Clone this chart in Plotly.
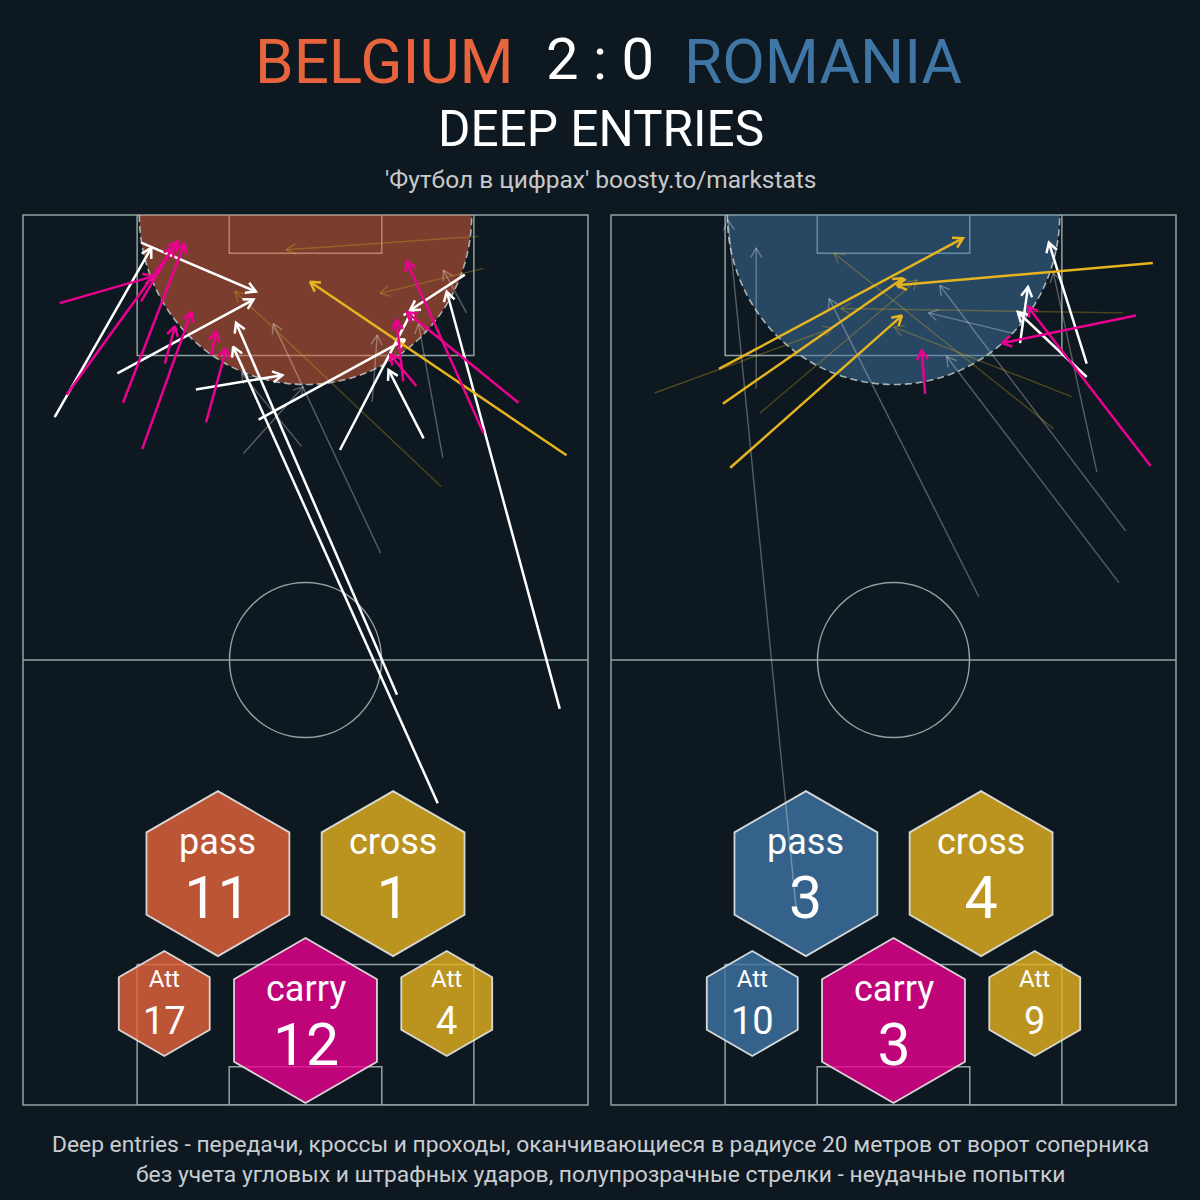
import math
import plotly.graph_objects as go

# ---------------- data ----------------
# coordinates in 0-100 pitch units: x across the pitch width, y along the length (100 = opponent goal)
# each row: [x_start, y_start, x_end, y_end]
teams = ["BELGIUM", "ROMANIA"]
score = [2, 0]

bel_pass = [
    [5.6, 77.3, 22.7, 96.3],
    [20.9, 96.9, 41.2, 91.4],
    [16.7, 82.2, 40.8, 90.5],
    [30.6, 80.4, 45.9, 82.0],
    [66.2, 46.1, 37.7, 87.9],
    [73.4, 33.9, 37.2, 85.2],
    [41.7, 77.0, 67.6, 86.0],
    [56.1, 73.6, 69.0, 89.4],
    [70.9, 74.9, 64.7, 82.6],
    [78.2, 93.3, 68.5, 89.3],
    [95.0, 44.5, 75.0, 91.4],
]
bel_pass_fail = [
    [63.3, 62.0, 44.3, 87.8],
    [39.0, 73.2, 49.6, 80.7],
    [49.3, 74.0, 38.7, 82.2],
    [61.8, 79.0, 62.7, 86.5],
    [78.5, 89.0, 74.4, 93.8],
    [74.3, 72.7, 70.0, 87.8],
]
bel_cross = [
    [96.2, 73.0, 50.8, 92.5],
]
bel_cross_fail = [
    [80.6, 97.6, 46.6, 96.1],
    [81.5, 94.0, 63.2, 91.2],
    [74.0, 69.5, 37.5, 91.4],
]
bel_carry = [
    [6.5, 90.1, 23.0, 93.1],
    [7.7, 79.8, 27.4, 97.0],
    [20.9, 90.3, 26.6, 96.4],
    [17.7, 78.9, 28.6, 96.8],
    [21.1, 73.7, 29.8, 89.1],
    [25.1, 83.3, 26.9, 87.5],
    [33.3, 84.3, 34.2, 86.9],
    [32.4, 76.7, 36.0, 85.0],
    [81.5, 75.5, 67.9, 94.8],
    [87.7, 78.9, 67.9, 89.1],
    [67.3, 81.3, 66.1, 88.2],
    [69.6, 80.8, 65.0, 84.3],
]

rom_pass = [
    [84.2, 83.3, 77.5, 96.9],
    [72.4, 85.6, 73.8, 91.9],
    [84.2, 81.8, 72.0, 89.1],
]
rom_pass_fail = [
    [32.9, 21.2, 20.7, 99.4],
    [25.7, 80.5, 25.7, 96.3],
    [65.1, 57.1, 38.6, 90.6],
    [71.2, 86.7, 56.2, 89.0],
    [89.9, 58.7, 59.4, 84.1],
    [91.1, 64.5, 58.2, 92.1],
    [86.0, 71.1, 78.3, 93.5],
]
rom_cross = [
    [19.1, 82.7, 62.3, 97.4],
    [19.8, 78.8, 51.7, 92.9],
    [21.1, 71.6, 51.5, 88.7],
    [95.9, 94.6, 50.6, 92.1],
]
rom_cross_fail = [
    [7.7, 80.0, 39.2, 87.3],
    [26.3, 77.7, 54.2, 92.7],
    [81.5, 79.6, 50.1, 87.4],
    [78.3, 76.0, 39.5, 95.7],
    [90.7, 89.0, 40.7, 89.5],
]
rom_carry = [
    [55.6, 79.9, 55.0, 84.8],
    [92.9, 88.7, 69.2, 85.6],
    [95.5, 71.8, 73.8, 89.7],
]

# ---------------- style ----------------
BG = "#0e1820"
LINE = "#8fa3a0"
TEAM_RGB = [(232, 100, 60), (64, 118, 165)]
GOLD = (230, 180, 30)
MAG = (236, 0, 145)
WHITE = (255, 255, 255)
FONT = "Roboto"

def rgba(c, a):
    return f"rgba({c[0]},{c[1]},{c[2]},{a})"

W_PX, H_PX = 1200, 1200
PITCH_X0 = [23, 611]
PITCH_W = 565
PITCH_TOP, PITCH_BOT = 215, 1105
SX = PITCH_W / 100.0
SY = (PITCH_BOT - PITCH_TOP) / 100.0

# pitch geometry (metres -> 0-100 units)
PL, PWm = 105.0, 68.0
def ux(m):
    return m / PWm * 100
def uy(m):
    return m / PL * 100

fig = go.Figure()

def arrow_xy(rows, head=11.0, ang=math.radians(30)):
    xs, ys = [], []
    for x0, y0, x1, y1 in rows:
        dxp, dyp = (x1 - x0) * SX, (y1 - y0) * SY
        ln = math.hypot(dxp, dyp)
        bx, by = -dxp / ln, -dyp / ln
        arms = []
        for s in (1, -1):
            c, si = math.cos(s * ang), math.sin(s * ang)
            axp = bx * c - by * si
            ayp = bx * si + by * c
            arms.append((x1 + axp * head / SX, y1 + ayp * head / SY))
        xs += [x0, x1, None, arms[0][0], x1, arms[1][0], None]
        ys += [y0, y1, None, arms[0][1], y1, arms[1][1], None]
    return xs, ys

shapes = []
annotations = []

def paper(px, py):
    return px / W_PX, 1 - py / H_PX

team_sets = [
    (bel_pass, bel_pass_fail, bel_cross, bel_cross_fail, bel_carry),
    (rom_pass, rom_pass_fail, rom_cross, rom_cross_fail, rom_carry),
]

for i in range(2):
    xr = "x" if i == 0 else "x2"
    yr = "y" if i == 0 else "y2"
    team = TEAM_RGB[i]
    p_ok, p_fail, c_ok, c_fail, carry = team_sets[i]
    lw = 1.5
    # border
    shapes.append(dict(type="rect", xref=f"{xr} domain", yref=f"{yr} domain", x0=0, x1=1, y0=0, y1=1,
                       line=dict(color=LINE, width=lw), layer="below"))
    # halfway
    shapes.append(dict(type="line", xref=xr, yref=yr, x0=0, x1=100, y0=50, y1=50,
                       line=dict(color=LINE, width=lw), layer="below"))
    # centre circle
    shapes.append(dict(type="circle", xref=xr, yref=yr, x0=50 - ux(9.15), x1=50 + ux(9.15),
                       y0=50 - uy(9.15), y1=50 + uy(9.15), line=dict(color=LINE, width=lw), layer="below"))
    # penalty and six-yard boxes
    pb_w, pb_d = 20.2, 15.8
    sb_w, sb_d = 36.5, 4.3
    for (a, b) in [(100 - pb_d, 100), (0, pb_d)]:
        shapes.append(dict(type="rect", xref=xr, yref=yr, x0=pb_w, x1=100 - pb_w, y0=a, y1=b,
                           line=dict(color=LINE, width=lw), layer="below"))
    for (a, b) in [(100 - sb_d, 100), (0, sb_d)]:
        shapes.append(dict(type="rect", xref=xr, yref=yr, x0=sb_w, x1=100 - sb_w, y0=a, y1=b,
                           line=dict(color=LINE, width=lw), layer="below"))
    # 20 m zone
    rx, ry = ux(20), uy(20)
    pts = []
    n = 90
    for k in range(n + 1):
        t = math.pi + math.pi * k / n
        pts.append((50 + rx * math.cos(t), 100 + ry * math.sin(t)))
    path_fill = "M " + " L ".join(f"{x:.3f},{y:.3f}" for x, y in pts) + " Z"
    path_arc = "M " + " L ".join(f"{x:.3f},{y:.3f}" for x, y in pts)
    shapes.append(dict(type="path", xref=xr, yref=yr, path=path_fill, fillcolor=rgba(team, 0.5),
                       line=dict(width=0), layer="below"))
    shapes.append(dict(type="path", xref=xr, yref=yr, path=path_arc,
                       line=dict(color="rgba(185,192,192,0.9)", width=1.6, dash="7px,4px"), layer="below"))

    # hexagon badges
    hex_x = [34.5, 65.5, 50.0, 25.0, 75.0]
    hex_y = [26.0, 26.0, 9.5, 11.4, 11.4]
    hex_size = [165, 165, 165, 105, 105]
    hex_col = [rgba(team, 0.8), rgba(GOLD, 0.8), rgba(MAG, 0.8), rgba(team, 0.8), rgba(GOLD, 0.8)]
    fig.add_trace(go.Scatter(
        x=hex_x, y=hex_y, xaxis=xr, yaxis=yr, mode="markers", cliponaxis=False, hoverinfo="skip",
        marker=dict(symbol="hexagon", size=hex_size, color=hex_col, opacity=1,
                    line=dict(color="rgba(222,224,224,0.95)", width=1.8))))
    labels = ["pass", "cross", "carry", "Att", "Att"]
    values = [len(p_ok), len(c_ok), len(carry), len(p_ok) + len(p_fail), len(c_ok) + len(c_fail)]
    for k in range(5):
        big = hex_size[k] > 120
        s1, s2, base, ysh = (36, 59, 49.2, -3.0) if big else (24, 38, 36.15, -0.55)
        txt = (f"<span style='font-size:{s1}px'>{labels[k]}</span><br>"
               f"<span style='font-size:{s2}px'>{values[k]}</span>")
        annotations.append(dict(xref=xr, yref=yr, x=hex_x[k], y=hex_y[k], text=txt, showarrow=False,
                                yshift=ysh, xanchor="center", yanchor="middle",
                                align="center", font=dict(family=FONT, size=base, color="white")))

    # arrows: unsuccessful first (semi-transparent), then successful
    for rows, col, a, w in [(p_fail, WHITE, 0.3, 1.4), (c_fail, GOLD, 0.3, 1.4),
                            (p_ok, WHITE, 1.0, 2.5), (c_ok, GOLD, 1.0, 2.5), (carry, MAG, 1.0, 2.5)]:
        xs, ys = arrow_xy(rows)
        fig.add_trace(go.Scatter(x=xs, y=ys, xaxis=xr, yaxis=yr, mode="lines", hoverinfo="skip",
                                 line=dict(color=rgba(col, a), width=w)))

# titles
x, y = paper(516, 61.5)
annotations.append(dict(xref="paper", yref="paper", x=x, y=y, text=teams[0], showarrow=False,
                        xanchor="right", yanchor="middle", font=dict(family=FONT, size=62, color=rgba(TEAM_RGB[0], 1))))
x, y = paper(600, 59.5)
annotations.append(dict(xref="paper", yref="paper", x=x, y=y, text=f"{score[0]} : {score[1]}", showarrow=False,
                        xanchor="center", yanchor="middle", font=dict(family=FONT, size=58, color="white")))
x, y = paper(682, 61.5)
annotations.append(dict(xref="paper", yref="paper", x=x, y=y, text=teams[1], showarrow=False,
                        xanchor="left", yanchor="middle", font=dict(family=FONT, size=62, color=rgba(TEAM_RGB[1], 1))))
x, y = paper(601, 129)
annotations.append(dict(xref="paper", yref="paper", x=x, y=y, text="DEEP ENTRIES", showarrow=False,
                        xanchor="center", yanchor="middle", font=dict(family=FONT, size=49.5, color="white")))
x, y = paper(600, 179)
annotations.append(dict(xref="paper", yref="paper", x=x, y=y, text="'Футбол в цифрах' boosty.to/markstats",
                        showarrow=False, xanchor="center", yanchor="middle",
                        font=dict(family=FONT, size=24.5, color="#c8c8c8")))
footer = ["Deep entries - передачи, кроссы и проходы, оканчивающиеся в радиусе 20 метров от ворот соперника",
          "без учета угловых и штрафных ударов, полупрозрачные стрелки - неудачные попытки"]
for j, line in enumerate(footer):
    x, y = paper(600, 1144.5 + 30 * j)
    annotations.append(dict(xref="paper", yref="paper", x=x, y=y, text=line, showarrow=False,
                            xanchor="center", yanchor="middle", font=dict(family=FONT, size=22.8, color="#c8cdd2")))

ydom = [1 - PITCH_BOT / H_PX, 1 - PITCH_TOP / H_PX]
ax_common = dict(range=[0, 100], visible=False, fixedrange=True, showgrid=False, zeroline=False)
fig.update_layout(
    width=W_PX, height=H_PX, margin=dict(l=0, r=0, t=0, b=0),
    paper_bgcolor=BG, plot_bgcolor=BG, showlegend=False, hovermode=False,
    xaxis=dict(domain=[PITCH_X0[0] / W_PX, (PITCH_X0[0] + PITCH_W) / W_PX], anchor="y", **ax_common),
    yaxis=dict(domain=ydom, anchor="x", **ax_common),
    xaxis2=dict(domain=[PITCH_X0[1] / W_PX, (PITCH_X0[1] + PITCH_W) / W_PX], anchor="y2", **ax_common),
    yaxis2=dict(domain=ydom, anchor="x2", **ax_common),
    shapes=shapes, annotations=annotations,
)
fig.write_html("out.html", config={"displayModeBar": False},
               post_script="document.body.style.margin='0';document.body.style.overflow='hidden';"
                           "document.body.style.background='" + BG + "';")
